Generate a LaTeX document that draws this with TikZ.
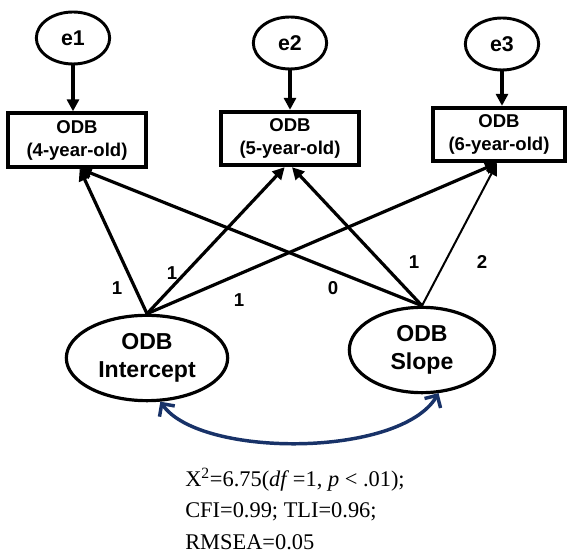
\documentclass[tikz,border=0pt]{standalone}
\usepackage{fontspec}
\setmainfont{Liberation Sans}
\newfontfamily\statfont{Liberation Serif}
\usetikzlibrary{arrows.meta,shapes.geometric}
\definecolor{covblue}{RGB}{24,50,104}
\tikzset{
err/.style={ellipse,draw,line width=2.2pt,minimum width=55pt,minimum height=39pt,inner sep=0pt,font=\bfseries\fontsize{16}{18}\selectfont},
obs/.style={rectangle,draw,line width=3pt,minimum height=40pt,inner sep=0pt,align=center,font=\bfseries\fontsize{13.9}{17.3}\selectfont},
lat/.style={ellipse,draw,line width=2.4pt,minimum height=64pt,inner sep=0pt,align=center,font=\bfseries\fontsize{17.3}{21}\selectfont},
load/.style={line width=2.4pt,-{Triangle[length=9pt,width=9pt]}},
lbl/.style={font=\bfseries\fontsize{14}{16}\selectfont},
cov/.style={covblue,line width=2.6pt,{Straight Barb[length=7pt,width=14pt]}-{Straight Barb[length=7pt,width=14pt]}},
stat/.style={anchor=base west,inner sep=0pt,font=\statfont\fontsize{16.8}{20}\selectfont}
}
\begin{document}
\begin{tikzpicture}[x=0.75pt,y=-0.75pt]
\useasboundingbox (0,0) rectangle (569,555);
\foreach \i/\x/\y in {1/73/38,2/290/43,3/502/44}
{
\draw (\x,\y) node[err] (e\i) {e\i};
}
\foreach \i/\x/\y/\w/\a in {1/77/140/103/4,2/290/138.5/103/5,3/499/134.5/99/6}
{
\draw (\x,\y) node[obs,minimum width=\w pt] (o\i) {ODB\\(\a-year-old)};
}
\draw (147,358) node[lat,minimum width=121pt] (icpt) {ODB\\Intercept};
\draw (422,350) node[lat,minimum width=109pt] (slope) {ODB\\Slope};

\foreach \i in {1,2,3}
\draw[load] (e\i.south) -- (e\i.south |- o\i.north);

\draw[load] (icpt.north) -- ([xshift=2pt]o1.south);
\draw[load] (icpt.north) -- ([xshift=-4pt]o2.south);
\draw[load] (icpt.north) -- ([xshift=-1.5pt]o3.south);
\draw[load] (slope.north) -- ([xshift=2pt]o1.south);
\draw[load] (slope.north) -- ([xshift=1.5pt]o2.south);
\draw[load,line width=1.5pt] (slope.north) -- ([xshift=-1.5pt]o3.south);

\draw (117,288) node[lbl] (w1) {1};
\draw (172,273) node[lbl] (w2) {1};
\draw (239,300) node[lbl] (w3) {1};
\draw (333,288) node[lbl] (w4) {0};
\draw (414,262) node[lbl] (w5) {1};
\draw (482,262) node[lbl] (w6) {2};

\draw[cov] (icpt.287) .. controls (200,458) and (400,458) .. (slope.291);

\draw (185,487) node[stat] (fit1) {X\textsuperscript{2}=6.75(\textit{df}\,=1, \textit{p} < .01);};
\draw (185,518) node[stat] (fit2) {CFI=0.99; TLI=0.96;};
\draw (185,550) node[stat] (fit3) {RMSEA=0.05};
\end{tikzpicture}
\end{document}
